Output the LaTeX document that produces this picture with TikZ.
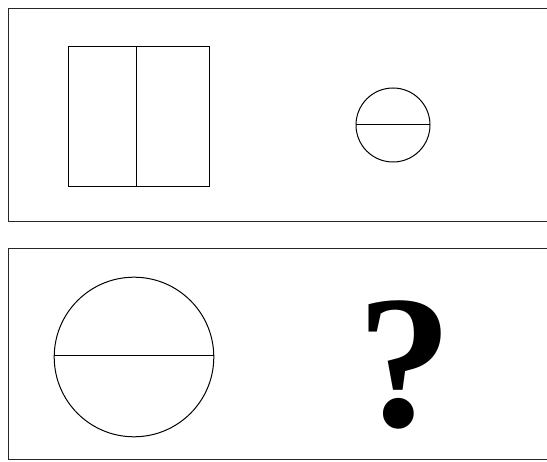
\documentclass[tikz,border=0pt]{standalone}
\usepackage{fontspec}
\setmainfont{Liberation Serif}
\begin{document}
\begin{tikzpicture}[x=1pt,y=-1pt,line width=1pt,
  panel/.style={draw=black!85},
  fig/.style={draw=black}]
\useasboundingbox (0,0) rectangle (547,462);
\fill[white] (0,0) rectangle (547,462);
% top panel
\draw[panel] (560,9) -- (8.7,9) -- (8.7,222) -- (560,222);
\draw[fig] (68.7,46.7) rectangle (209.4,186.7);
\draw[fig] (136.8,46.7) -- (136.8,186.7);
\draw[fig] (393,125) circle (37);
\draw[fig] (356,125) -- (430,125);
% bottom panel
\draw[panel] (560,248.3) -- (8.7,248.3) -- (8.7,460) -- (560,460);
\draw[fig] (134,357) circle (79.8);
\draw[fig] (54.2,356) -- (213.8,356);
\node[anchor=base,inner sep=0pt,font=\bfseries\fontsize{190}{190}\selectfont] (q) at (405,427) {?};
\end{tikzpicture}
\end{document}
